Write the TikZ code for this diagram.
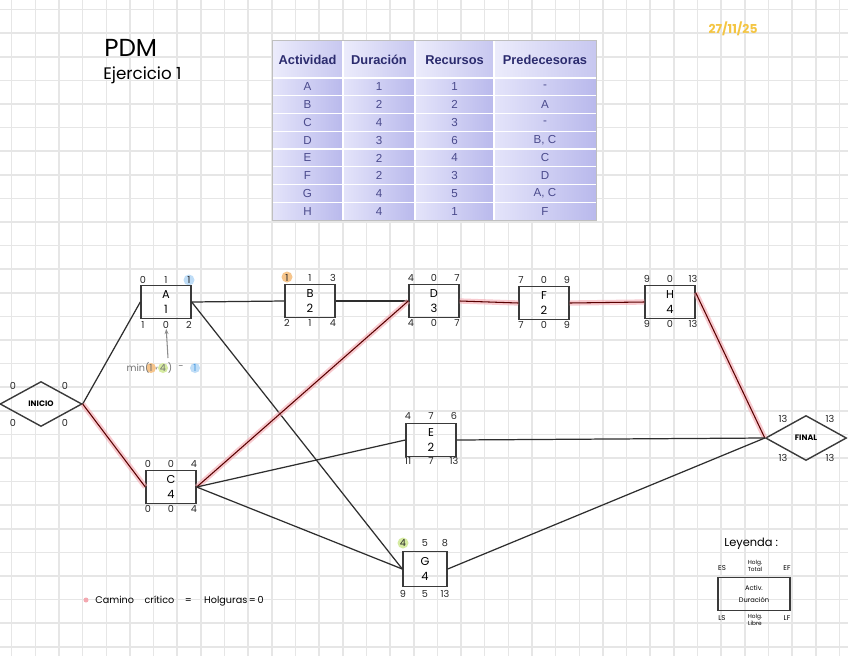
\documentclass[tikz,border=0pt]{standalone}
\usepackage{fontspec}
\setmainfont{Liberation Sans}
\newfontfamily\hand{Poppins}
\usetikzlibrary{shapes.geometric,arrows.meta}
\definecolor{gridc}{HTML}{E6E6E6}
\definecolor{boxc}{HTML}{3A3A3A}
\definecolor{linec}{HTML}{2E2E2E}
\definecolor{navy}{HTML}{2B2B6E}
\definecolor{bodyt}{HTML}{4A4A8C}
\definecolor{cellL}{HTML}{E4E4FA}
\definecolor{cellR}{HTML}{B9B9EC}
\definecolor{hlblue}{HTML}{BFDDF7}
\definecolor{hlorange}{HTML}{F6C58C}
\definecolor{hlgreen}{HTML}{D6EBA2}
\definecolor{critpink}{HTML}{F4A8B0}
\definecolor{datec}{HTML}{F4C542}
\definecolor{minblue}{HTML}{4A9BE0}
\newcommand\actnums[9]{%
  \node[num] (#1-es) at (#2-23,#3-22) {#4};
  \node[num] (#1-ht) at (#2,#3-22) {#5};
  \node[num] (#1-ef) at (#2+23,#3-22) {#6};
  \node[num] (#1-ls) at (#2-23,#3+23) {#7};
  \node[num] (#1-hl) at (#2,#3+23) {#8};
  \node[num] (#1-lf) at (#2+23,#3+23) {#9};}
\begin{document}
\begin{tikzpicture}[x=0.02cm,y=-0.02cm,
  act/.style={draw=boxc, line width=0.8pt, minimum width=1cm, minimum height=0.66cm, inner sep=0pt, align=center, font=\hand\fontsize{6.5}{8.5}\selectfont},
  num/.style={inner sep=0pt, font=\hand\fontsize{5.5}{6}\selectfont, text=black!85},
  mn/.style={inner sep=0pt, font=\hand\fontsize{5.5}{6}\selectfont, text=black!55},
  dia/.style={diamond, draw=boxc, line width=0.8pt, inner sep=0pt, font=\hand\bfseries\fontsize{4.5}{5}\selectfont},
  link/.style={draw=linec, line width=0.7pt},
  crit/.style={preaction={draw=critpink, line width=3pt, opacity=0.6}, draw=black!65!red, line width=0.6pt},
  hdr/.style={inner sep=0pt, font=\bfseries\fontsize{7.3}{8}\selectfont, text=navy},
  cell/.style={inner sep=0pt, font=\fontsize{6.6}{7}\selectfont, text=bodyt}]
\useasboundingbox (0,0) rectangle (848,656);
\fill[white] (0,0) rectangle (848,656);
% grid
\foreach \i in {0,...,35} \draw[gridc, line width=0.9pt] ({11.7+\i*23.65},0) -- ({11.7+\i*23.65},656);
\foreach \i in {0,...,27} \draw[gridc, line width=0.9pt] (0,{9.6+\i*23.6}) -- (848,{9.6+\i*23.6});
% titles
\node[inner sep=0pt, anchor=west, font=\hand\fontsize{14}{16}\selectfont] (title) at (104,48) {PDM};
\node[inner sep=0pt, anchor=west, font=\hand\fontsize{9.5}{11}\selectfont] (sub) at (103,75) {Ejercicio 1};
\node[inner sep=0pt, font=\hand\bfseries\fontsize{7}{7}\selectfont, text=datec] (date) at (733,29) {27/11/25};
% table
\foreach \xa/\xb in {272/343,343/415,415/494,494/596}{
  \shade[left color=cellL!70!white, right color=cellR!80!white] (\xa,40) rectangle (\xb,78);
  \foreach \r in {0,...,7}{
    \shade[left color=cellL, right color=cellR] (\xa,{78+\r*17.75}) rectangle (\xb,{78+(\r+1)*17.75});
  }
}
\foreach \xx in {343,415,494} \draw[white, line width=1pt] (\xx,40) -- (\xx,220);
\foreach \r in {0,...,7} \draw[white, line width=0.8pt] (272,{78+\r*17.75}) -- (596,{78+\r*17.75});
\draw[black!25, line width=0.5pt] (272,40) rectangle (596,220);
\node[hdr] (h1) at (307.5,60) {Actividad};
\node[hdr] (h2) at (379,60) {Duración};
\node[hdr] (h3) at (454.5,60) {Recursos};
\node[hdr] (h4) at (545,60) {Predecesoras};
\foreach \a/\d/\rr/\p [count=\k from 0] in {A/1/1/-,B/2/2/A,C/4/3/-,D/3/6/{B, C},E/2/4/C,F/2/3/D,G/4/5/{A, C},H/4/1/F}{
  \node[cell] (ta\k) at (307.5,{87+\k*17.75}) {\a};
  \node[cell] (td\k) at (379,{87+\k*17.75}) {\d};
  \node[cell] (tr\k) at (454.5,{87+\k*17.75}) {\rr};
  \node[cell] (tp\k) at (545,{87+\k*17.75}) {\p};
}
% highlights
\fill[hlblue] (189,280) circle (5.5);
\fill[hlorange] (287,277) circle (5.5);
\fill[hlgreen] (403,543) circle (5.5);
% activity nodes
\node[dia, minimum width=1.64cm, minimum height=0.9cm] (ini) at (41,404) {INICIO};
\node[dia, minimum width=1.62cm, minimum height=0.9cm] (fin) at (806,438) {FINAL};
\node[act] (A) at (166,302) {A\\1};
\node[act] (B) at (310,301) {B\\2};
\node[act] (D) at (434,301) {D\\3};
\node[act] (F) at (544,303) {F\\2};
\node[act] (H) at (670,302) {H\\4};
\node[act] (C) at (171,487) {C\\4};
\node[act] (E) at (431,440) {E\\2};
\node[act, minimum width=0.88cm, minimum height=0.7cm] (G) at (425,569) {G\\4};
\actnums{A}{166}{302}{0}{1}{1}{1}{0}{2}
\actnums{B}{310}{300}{1}{1}{3}{2}{1}{4}
\actnums{D}{434}{300}{4}{0}{7}{4}{0}{7}
\actnums{F}{544}{302}{7}{0}{9}{7}{0}{9}
\actnums{H}{670}{301}{9}{0}{13}{9}{0}{13}
\actnums{C}{171}{486}{0}{0}{4}{0}{0}{4}
\actnums{E}{431}{438}{4}{7}{6}{11}{7}{13}
\node[num] (G-es) at (403,543) {4};
\node[num] (G-ht) at (425,543) {5};
\node[num] (G-ef) at (445,543) {8};
\node[num] (G-ls) at (403,594) {9};
\node[num] (G-hl) at (425,594) {5};
\node[num] (G-lf) at (445,594) {13};
\node[num] (i1) at (13,386) {0};
\node[num] (i2) at (65,386) {0};
\node[num] (i3) at (13,423) {0};
\node[num] (i4) at (65,423) {0};
\node[num] (f1) at (783,419) {13};
\node[num] (f2) at (830,419) {13};
\node[num] (f3) at (783,458) {13};
\node[num] (f4) at (830,458) {13};
% min note
\fill[hlorange] (151,368) circle (5);
\fill[hlgreen] (163,368) circle (5);
\fill[hlblue] (195,368) circle (5);
\node[mn] (mn1) at (138,368) {min(};
\node[mn] (mn2) at (151,368) {1};
\node[mn] (mn3) at (157,369) {,};
\node[mn] (mn4) at (163,368) {4};
\node[mn] (mn5) at (170,368) {)};
\node[mn] (mn6) at (181,368) {-};
\node[mn, text=minblue] (mn7) at (195,368) {1};
\coordinate (minarr) at (168,358);
\draw[black!45, line width=0.6pt, -{Stealth[length=3pt]}] (minarr) -- (A-hl);
% connectors
\draw[link] (ini.east) -- (A.west);
\draw[crit] (ini.east) -- (C.west);
\draw[link] (A.east) -- (B.west);
\draw[link] (A.east) -- (G.west);
\draw[link] (B.east) -- (D.west);
\draw[crit] (C.east) -- (D.west);
\draw[crit] (D.east) -- (F.west);
\draw[crit] (F.east) -- (H.west);
\draw[crit] (H.20) -- (fin.west);
\draw[link] (C.east) -- (E.west);
\draw[link] (C.east) -- (G.west);
\draw[link] (E.east) -- (fin.west);
\draw[link] (G.east) -- (fin.west);
% legend
\node[inner sep=0pt, anchor=west, font=\hand\fontsize{6.5}{7}\selectfont] (leg) at (724,544) {Leyenda :};
\node[draw=boxc, line width=0.7pt, minimum width=1.44cm, minimum height=0.66cm, inner sep=0pt, align=center, font=\hand\fontsize{3.8}{7}\selectfont] (lbox) at (754,594) {Activ.\\Duración};
\node[inner sep=0pt, font=\hand\fontsize{4}{4}\selectfont] (les) at (722,568) {ES};
\node[inner sep=0pt, align=center, font=\hand\fontsize{3.3}{3.8}\selectfont] (lht) at (755,566) {Holg.\\Total};
\node[inner sep=0pt, font=\hand\fontsize{4}{4}\selectfont] (lef) at (787,568) {EF};
\node[inner sep=0pt, font=\hand\fontsize{4}{4}\selectfont] (lls) at (722,618) {LS};
\node[inner sep=0pt, align=center, font=\hand\fontsize{3.3}{3.8}\selectfont] (lhl) at (755,620) {Holg.\\Libre};
\node[inner sep=0pt, font=\hand\fontsize{4}{4}\selectfont] (llf) at (787,618) {LF};
% critical path note
\fill[critpink] (86,600) circle (2.5);
\node[inner sep=0pt, anchor=west, font=\hand\fontsize{5.5}{6}\selectfont] (cnote) at (95,601) {Camino\hspace{6pt}crítico\hspace{6pt}=\hspace{7pt}Holguras\,=\,0};
\end{tikzpicture}
\end{document}
